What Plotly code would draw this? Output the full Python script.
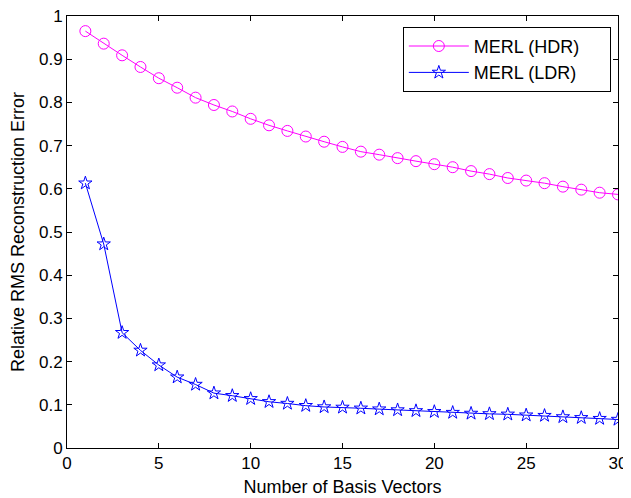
import plotly.graph_objects as go

basis = list(range(1, 31))
hdr = [0.965, 0.936, 0.909, 0.882, 0.856, 0.834, 0.811, 0.794, 0.779, 0.762,
       0.747, 0.734, 0.721, 0.709, 0.697, 0.686, 0.679, 0.671, 0.664, 0.657,
       0.650, 0.641, 0.634, 0.625, 0.619, 0.613, 0.605, 0.598, 0.591, 0.587]
ldr = [0.613, 0.472, 0.267, 0.226, 0.192, 0.164, 0.147, 0.127, 0.121, 0.114,
       0.107, 0.103, 0.098, 0.095, 0.094, 0.092, 0.090, 0.088, 0.086, 0.084,
       0.082, 0.080, 0.079, 0.078, 0.076, 0.075, 0.072, 0.070, 0.068, 0.066]
x_ticks = [0, 5, 10, 15, 20, 25, 30]
y_ticks = [0, 0.1, 0.2, 0.3, 0.4, 0.5, 0.6, 0.7, 0.8, 0.9, 1]
y_tick_labels = ["0", "0.1", "0.2", "0.3", "0.4", "0.5", "0.6", "0.7", "0.8", "0.9", "1"]
series_names = ["MERL (HDR)", "MERL (LDR)"]

pad = "\u00a0" * 5
fig = go.Figure()
fig.add_trace(go.Scatter(
    x=basis, y=hdr, name=series_names[0] + pad, mode="lines+markers",
    line=dict(color="#ff00ff", width=1),
    marker=dict(symbol="circle-open", size=11, color="#ff00ff", line=dict(width=1)),
))
fig.add_trace(go.Scatter(
    x=basis, y=ldr, name=series_names[1] + pad, mode="lines+markers",
    line=dict(color="#0000ff", width=1),
    marker=dict(symbol="star-open", size=10, color="#0000ff", line=dict(width=1)),
))

font_family = "Liberation Sans, Arial, sans-serif"
axis_common = dict(
    showgrid=False, zeroline=False, showline=True, linecolor="black", linewidth=1,
    mirror="ticks", ticks="inside", ticklen=5, tickcolor="black", automargin=False,
    ticklabeloverflow="allow",
    tickfont=dict(family=font_family, size=17, color="black"),
)
fig.update_xaxes(range=[0, 30], tickvals=x_ticks,
                 title=dict(text="Number of Basis Vectors", standoff=7,
                            font=dict(family=font_family, size=18, color="black")),
                 **axis_common)
fig.update_yaxes(range=[0, 1], tickvals=y_ticks, ticktext=y_tick_labels,
                 title=dict(text="Relative RMS Reconstruction Error", standoff=12,
                            font=dict(family=font_family, size=18, color="black")),
                 **axis_common)

# the page body adds an 8px offset, so the figure is sized to fit the window
fig.update_layout(
    width=623, height=490,
    margin=dict(l=59, r=13, t=8, b=50),
    paper_bgcolor="white", plot_bgcolor="white",
    font=dict(family=font_family, size=17, color="black"),
    showlegend=True,
    legend=dict(x=0.987, y=0.975, xanchor="right", yanchor="top",
                bordercolor="black", borderwidth=1, bgcolor="white",
                font=dict(family=font_family, size=18, color="black"),
                itemwidth=60, tracegroupgap=0),
)

fig.write_html("out.html")
